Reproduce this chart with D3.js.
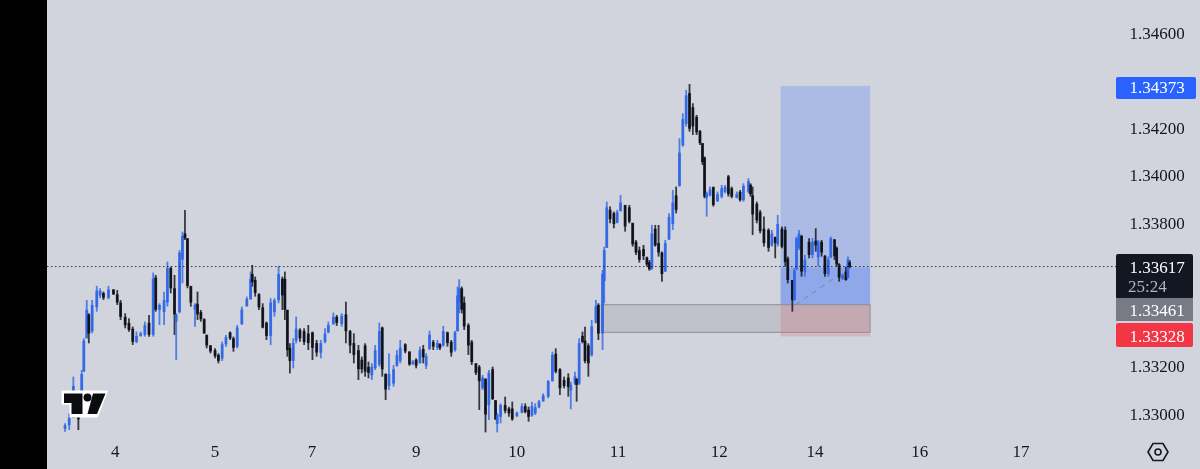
<!DOCTYPE html>
<html><head><meta charset="utf-8">
<style>html,body{margin:0;padding:0;background:#d1d4dc;overflow:hidden}svg{display:block}text{font-family:"Liberation Serif",serif}</style>
<script src="https://cdn.jsdelivr.net/npm/d3@7"></script>
</head><body><div id="c"></div>
<script>
// Prices are stored as offsets from 1.33000 in units of 0.00001. Times are in hours from the first bar.
const priceBase = 1.33;
const times = [0,1,2,3.2,4,4.5,5.2,5.7,6.5,7.6,8.4,9.2,10.4,11.6,12.5,13.3,14.4,15.3,16.2,17.1,18.1,19.1,20.1,21.1,21.7,22.6,23.7,24.5,25.3,26.2,26.6,27.4,28.1,28.7,29.3,30.1,31.1,31.7,32.5,33.3,33.9,34.8,35.9,36.7,37.6,38.5,39.5,40.3,41.2,42.3,43.5,44.4,44.8,45.5,46.4,47.3,48.2,49.2,50.1,51.1,52,52.6,53.2,53.8,54.6,55.3,56.2,57.2,58.2,59.2,60.2,61.2,62.2,63,64.2,65,
66.2,67.2,68.2,69.1,70.2,71,71.8,72.6,73.4,74.2,75.2,75.9,76.7,77.5,78.6,79.4,80.2,81.4,82.4,83.2,84,84.9,85.7,86.4,87.2,88.1,89.1,89.7,90.5,91.5,92.4,93.3,93.9,94.3,94.9,95.5,96.5,97.3,98.3,99.1,99.9,100.6,101.4,102.3,103,103.4,104.2,105.3,106.2,107,108.1,109.3,110.1,110.9,111.7,112.5,113.4,114.4,115.6,116.6,117.4,118.4,119.4,120.4,121,122,122.4,123,123.8,124.4,125.2,126,127,127.6,128.6,
129,129.6,130.4,131.3,132.1,132.9,134,135,135.8,136.6,137.4,138.4,139.2,139.8,140.4,141.2,142,142.8,143.6,144.5,145.4,146.2,147,147.8,148.6,149.4,150.2,151.1,151.9,152.5,153,153.5,154.3,155.1,156.1,157.1,157.9,158.7,159.5,160.7,161.5,162.3,163.5,164,164.5,165.5,166.3,167.2,168.3,169.1,169.9,170.5,171.5,172.3,172.9,174,174.5,175,175.6,176.2,177,178,178.8,179.6,180.2,181,181.8,182.6,183.2,184.1,184.6,185.2,186,186.8,187.3,187.7];
const opens = [-60,-45,-15,40,80,180,320,420,350,450,500,510,490,525,505,470,410,385,360,305,330,335,385,335,575,440,430,470,615,530,390,430,650,760,740,540,440,465,430,400,335,290,270,250,235,295,345,320,285,380,455,485,590,565,505,450,385,330,430,480,570,570,440,280,225,310,355,350,340,345,300,260,305,345,380,410,
380,420,350,300,270,230,290,200,165,195,210,365,170,120,130,205,225,295,265,212,230,215,275,205,275,305,280,295,290,345,305,270,350,470,530,470,375,305,215,200,110,150,40,190,60,-40,-10,40,25,25,-8,8,35,20,-5,5,30,55,75,140,255,190,145,155,100,130,150,130,330,310,290,250,385,460,340,
560,700,860,845,805,855,880,870,805,725,690,695,660,640,615,780,720,680,600,735,800,920,960,1130,1220,1350,1290,1250,1190,1140,1080,910,920,955,895,915,935,1000,950,910,935,900,935,965,920,885,850,780,775,710,745,715,780,775,655,565,480,610,700,750,600,725,670,730,660,725,665,590,660,735,700,630,570,600,575,640];
const closes = [-45,-15,120,-20,170,310,440,340,460,520,520,490,525,505,470,410,375,355,305,330,340,375,335,570,440,460,480,615,530,420,420,680,750,740,540,470,460,420,400,340,290,265,245,225,295,325,320,280,365,440,485,570,555,510,450,365,330,470,480,590,500,440,270,225,300,360,320,305,300,280,260,300,340,375,410,385,
415,350,290,250,190,190,180,175,200,270,350,190,105,170,190,250,280,265,210,222,205,270,240,245,335,285,300,280,350,300,260,345,500,530,440,370,290,220,175,140,155,0,175,65,-20,0,40,15,5,-20,8,35,10,-10,35,30,55,80,140,250,180,110,120,115,125,160,125,300,305,225,215,370,455,340,590,
690,870,820,800,850,890,790,810,715,680,650,665,630,610,760,710,680,590,720,830,890,860,1100,1240,1340,1200,1210,1185,1140,1060,915,930,945,880,925,950,955,925,915,925,900,960,980,925,840,815,770,720,700,760,720,800,705,640,565,480,605,740,760,600,650,670,725,710,725,680,590,650,740,665,630,575,585,565,650,620];
const highs = [-37,5,159,75,187,320,481,425,481,540,530,516,540,526,523,481,425,404,369,348,348,390,418,596,586,467,516,642,621,586,425,691,768,859,740,537,467,516,439,404,334,292,278,257,306,334,348,327,376,453,495,600,628,579,509,467,390,488,488,624,579,600,439,299,320,411,362,362,376,348,313,313,362,390,428,418,
425,474,355,341,292,243,299,222,215,292,386,369,173,257,208,271,313,299,264,229,236,285,292,257,352,313,313,299,372,348,313,352,537,568,537,495,383,313,215,208,166,152,187,201,61,5,47,75,33,54,12,47,47,33,54,47,61,89,145,264,278,194,159,173,138,180,152,320,348,369,299,397,481,467,607,
705,894,873,852,859,922,880,880,803,733,705,712,663,649,796,796,796,684,733,845,943,957,1160,1265,1363,1388,1307,1258,1195,1139,1083,936,957,957,936,964,964,1006,957,936,943,971,992,971,957,894,859,831,782,775,747,838,789,789,663,565,614,747,775,754,670,740,740,782,733,733,670,663,747,737,705,635,593,621,663,649];
const lows = [-72,-65,-9,-65,75,180,320,299,341,432,488,481,484,502,460,397,362,348,292,299,327,327,327,327,432,376,376,453,509,334,229,425,551,733,530,453,369,397,390,340,278,257,236,215,225,285,313,264,278,376,453,481,537,495,439,362,313,292,411,467,439,397,243,173,194,299,306,292,271,229,243,236,299,341,376,372,
369,299,257,215,145,173,159,152,145,187,201,159,61,103,117,201,215,257,205,208,194,215,215,191,271,271,271,271,285,285,243,264,348,425,425,355,250,208,166,19,103,-75,-23,61,-23,-75,-37,5,-9,-26,-9,5,5,-30,-9,-2,26,54,68,138,173,82,110,75,22,124,54,124,299,215,159,243,383,313,271,
467,700,803,782,803,852,768,803,705,670,638,649,621,604,607,705,663,558,600,733,775,845,957,1125,1209,1188,1174,1174,1132,1048,908,831,915,873,894,908,929,915,908,908,894,894,929,915,754,803,761,705,684,705,656,705,698,621,551,432,480,607,691,579,579,656,656,684,621,663,579,579,656,649,621,558,565,562,572,614];

const axisPriceTicks = [1600,1200,1000,800,200,0];
const dayTickTimes = [12,35.9,59.1,84,108.1,132.3,156.5,179.4,204.5,228.7];
const dayTickLabels = ["4","5","7","9","10","11","12","14","16","17"];

const lastPrice = 617, entryPrice = 461, targetPrice = 1373, stopPrice = 328, zoneLow = 345, boxTop = 1380;
const zoneStart = 128.3, tradeStart = 171.2, tradeEnd = 192.6, dashStart = 174.8;
const priceLabels = [
  {value:"1.34373", price:1373, color:"#2962ff"},
  {value:"1.33328", price:328, color:"#f23645"},
];

const W = 1200, H = 469;
const x = d3.scaleLinear().domain([0,228.7]).range([65,1021]);
const y = d3.scaleLinear().domain([0,1600]).range([414.5,33.5]);
const fmt = v => (priceBase + v/1e5).toFixed(5);

const svg = d3.select("#c").append("svg").attr("width",W).attr("height",H);
svg.append("rect").attr("width",W).attr("height",H).attr("fill","#d1d4dc");
const defs = svg.append("defs");
defs.append("clipPath").attr("id","pane").append("rect").attr("x",47).attr("y",0).attr("width",1069).attr("height",433);
defs.append("filter").attr("id","soft").attr("x","-5%").attr("y","-5%").attr("width","110%").attr("height","110%")
  .append("feGaussianBlur").attr("stdDeviation",0.35);

// Position tool
const g = svg.append("g");
const bx = x(tradeStart), bw = x(tradeEnd)-x(tradeStart);
g.append("rect").attr("x",bx).attr("width",bw).attr("y",y(boxTop)).attr("height",y(entryPrice)-y(boxTop)).attr("fill","#2962ff").attr("opacity",.22);
g.append("rect").attr("x",bx).attr("width",bw).attr("y",y(lastPrice)).attr("height",y(entryPrice)-y(lastPrice)).attr("fill","#2962ff").attr("opacity",.22);
g.append("rect").attr("x",bx).attr("width",bw).attr("y",y(entryPrice)).attr("height",y(stopPrice)-y(entryPrice)).attr("fill","#f23645").attr("opacity",.2);
// Grey zone
g.append("rect").attr("x",x(zoneStart)).attr("width",x(tradeEnd)-x(zoneStart)).attr("y",y(entryPrice)).attr("height",y(zoneLow)-y(entryPrice))
 .attr("fill","#787b86").attr("fill-opacity",.2).attr("stroke","#8c8f98").attr("stroke-width",1);

// Dashed trade line
g.append("line").attr("x1",x(dashStart)).attr("y1",y(entryPrice)).attr("x2",x(187.7)).attr("y2",y(lastPrice))
 .attr("stroke","#787b86").attr("stroke-dasharray","5 5").attr("opacity",.7);

// Candles
const candles = svg.append("g").attr("clip-path","url(#pane)").append("g").attr("filter","url(#soft)");
const col = i => closes[i] >= opens[i] ? "#2f66e6" : "#0e1118";
candles.selectAll("line.w").data(times).join("line").attr("class","w")
 .attr("x1",d=>x(d)).attr("x2",d=>x(d))
 .attr("y1",(d,i)=>y(highs[i])).attr("y2",(d,i)=>y(lows[i]))
 .attr("stroke",(d,i)=>col(i)).attr("stroke-width",1.8).attr("opacity",.8);
candles.selectAll("rect.b").data(times).join("rect").attr("class","b")
 .attr("x",d=>x(d)-1.4).attr("width",2.8)
 .attr("y",(d,i)=>y(Math.max(opens[i],closes[i])))
 .attr("height",(d,i)=>Math.max(1,Math.abs(y(opens[i])-y(closes[i]))))
 .attr("fill",(d,i)=>col(i)).attr("opacity",.9);

// Last price dotted line
svg.append("line").attr("x1",47).attr("x2",1116).attr("y1",y(lastPrice)-1).attr("y2",y(lastPrice)-1)
 .attr("stroke","#131722").attr("stroke-width",1).attr("stroke-dasharray","1.5 2.5").attr("opacity",.85);

// Left band
svg.append("rect").attr("width",47).attr("height",H).attr("fill","#000");

// Logo
const logo = svg.append("g").attr("transform","translate(62,391)");
logo.append("path").attr("d","M0 0H45.5L35.5 26H8V13H0Z").attr("fill","#fff").attr("stroke","#fff").attr("stroke-width",1).attr("stroke-linejoin","round");
logo.append("path").attr("d","M2 2.5H20.5V23H9.5V12H2Z").attr("fill","#0b0c10");
logo.append("circle").attr("cx",25.5).attr("cy",6.5).attr("r",4).attr("fill","#0b0c10");
logo.append("path").attr("d","M31 2.5H43.5L35 23H25.5Z").attr("fill","#0b0c10");

// Price axis
svg.append("g").selectAll("text").data(axisPriceTicks).join("text")
 .attr("x",1157).attr("y",d=>y(d)+5).attr("text-anchor","middle").attr("font-size",17).attr("fill","#131722")
 .text(d=>fmt(d));

// Time axis
svg.append("g").selectAll("text").data(dayTickTimes).join("text")
 .attr("x",d=>x(d)).attr("y",457).attr("text-anchor","middle").attr("font-size",17).attr("fill","#131722")
 .text((d,i)=>dayTickLabels[i]);

// Price labels
const lab = svg.append("g");
lab.append("rect").attr("x",1116).attr("y",77).attr("width",80).attr("height",22).attr("rx",2).attr("fill",priceLabels[0].color);
lab.append("text").attr("x",1157).attr("y",93).attr("text-anchor","middle").attr("font-size",17).attr("fill","#fff").text(priceLabels[0].value);
lab.append("rect").attr("x",1116).attr("y",254).attr("width",77).attr("height",45).attr("rx",2).attr("fill","#131722");
lab.append("text").attr("x",1157).attr("y",273).attr("text-anchor","middle").attr("font-size",17).attr("fill","#fff").text(fmt(lastPrice));
lab.append("text").attr("x",1128).attr("y",292).attr("font-size",17).attr("fill","#b2b5be").text("25:24");
lab.append("rect").attr("x",1116).attr("y",298).attr("width",77).attr("height",23).attr("fill","#787b86");
lab.append("text").attr("x",1157).attr("y",316).attr("text-anchor","middle").attr("font-size",17).attr("fill","#fff").text(fmt(entryPrice));
lab.append("rect").attr("x",1116).attr("y",323).attr("width",77).attr("height",24).attr("rx",2).attr("fill",priceLabels[1].color);
lab.append("text").attr("x",1157).attr("y",342).attr("text-anchor","middle").attr("font-size",17).attr("fill","#fff").text(priceLabels[1].value);

// Settings icon
const gear = svg.append("g").attr("transform","translate(1158,452)").attr("fill","none").attr("stroke","#131722").attr("stroke-width",1.6);
gear.append("path").attr("d","M-10 0L-5 -8.5H5L10 0L5 8.5H-5Z");
gear.append("circle").attr("r",3);
</script></body></html>
